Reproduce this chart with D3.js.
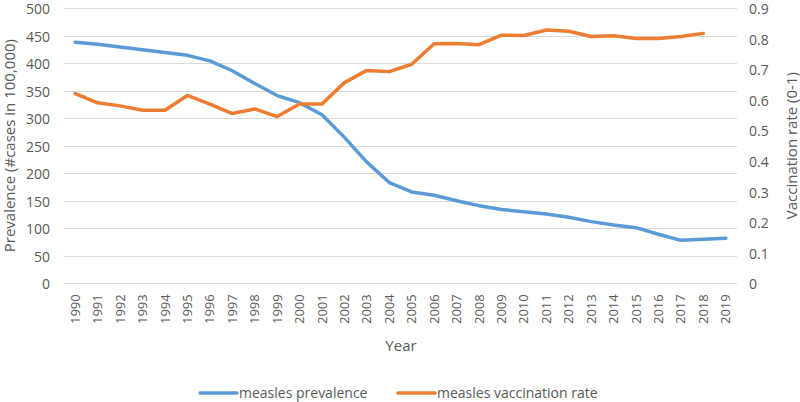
<!DOCTYPE html>
<html>
<head>
<meta charset="utf-8">
<script src="https://cdn.jsdelivr.net/npm/d3@7"></script>
<style>
  body { margin: 0; background: #fff; }
  svg { font-family: 'Open Sans', sans-serif; }
</style>
</head>
<body>
<div class="div_chart"></div>
<script>
const years = d3.range(1990, 2020).map(String);
const prevalence = [438, 434, 429, 424, 419, 414, 404, 386, 363, 341, 328, 306, 265, 220, 183, 166,
  160, 150, 141, 134, 130, 126, 120, 112, 106, 101, 89, 78, 80, 82];
const vaccination = [0.620, 0.590, 0.580, 0.566, 0.566, 0.614, 0.586, 0.555, 0.570, 0.545, 0.586,
  0.586, 0.656, 0.696, 0.692, 0.716, 0.783, 0.784, 0.780, 0.811, 0.810, 0.828, 0.824, 0.807,
  0.809, 0.800, 0.800, 0.807, 0.817, null];
const leftTicks = d3.range(0, 501, 50);
const rightTicks = d3.range(0, 0.91, 0.1);
const seriesNames = ['measles prevalence', 'measles vaccination rate'];
const colors = ['#5B9BD5', '#ED7D31'];

const width = 800;
const height = 402;
const margin = { top: 8, right: 63, bottom: 118.7, left: 64 };
const textColor = '#595959';

const svg = d3.select('.div_chart')
  .append('svg')
  .attr('width', width)
  .attr('height', height);

const x = d3.scaleBand()
  .domain(years)
  .range([margin.left, width - margin.right]);

const yLeft = d3.scaleLinear()
  .domain([0, 500])
  .range([height - margin.bottom, margin.top]);

const yRight = d3.scaleLinear()
  .domain([0, 0.9])
  .range([height - margin.bottom, margin.top]);

// gridlines
svg.append('g')
  .selectAll('line')
  .data(leftTicks)
  .enter()
  .append('line')
  .attr('x1', margin.left)
  .attr('x2', width - margin.right)
  .attr('y1', (d) => Math.round(yLeft(d)) + 0.5)
  .attr('y2', (d) => Math.round(yLeft(d)) + 0.5)
  .attr('stroke', '#D9D9D9')
  .attr('stroke-width', 1);

// left axis
const leftAxis = svg.append('g')
  .attr('transform', `translate(${margin.left - 8},0)`)
  .call(d3.axisLeft(yLeft).tickValues(leftTicks).tickSize(0).tickPadding(6));
leftAxis.select('.domain').remove();
leftAxis.selectAll('text')
  .attr('fill', textColor)
  .attr('font-size', '14px')
  .attr('font-family', "'Open Sans', sans-serif")
  .attr('dy', '0.4em');

// right axis
const rightAxis = svg.append('g')
  .attr('transform', `translate(${width - margin.right + 8},0)`)
  .call(d3.axisRight(yRight).tickValues(rightTicks).tickSize(0).tickPadding(4)
    .tickFormat((d) => d3.format('~g')(+d.toFixed(1))));
rightAxis.select('.domain').remove();
rightAxis.selectAll('text')
  .attr('fill', textColor)
  .attr('font-size', '14px')
  .attr('font-family', "'Open Sans', sans-serif")
  .attr('dy', '0.4em');

// x axis
const xAxis = svg.append('g')
  .attr('transform', `translate(0,${height - margin.bottom})`)
  .call(d3.axisBottom(x).tickSize(0).tickPadding(0));
xAxis.select('.domain').remove();
xAxis.selectAll('text')
  .attr('fill', textColor)
  .attr('font-size', '13px')
  .attr('font-family', "'Open Sans', sans-serif")
  .attr('transform', 'rotate(-90)')
  .attr('text-anchor', 'end')
  .attr('x', -11)
  .attr('y', 0)
  .attr('dy', '0.35em');

// lines
const lineLeft = d3.line()
  .x((d, i) => x(years[i]) + x.bandwidth() / 2)
  .y((d) => yLeft(d));

const lineRight = d3.line()
  .defined((d) => d != null)
  .x((d, i) => x(years[i]) + x.bandwidth() / 2)
  .y((d) => yRight(d));

svg.append('path')
  .datum(prevalence)
  .attr('fill', 'none')
  .attr('stroke', colors[0])
  .attr('stroke-width', 3.5)
  .attr('stroke-linejoin', 'round')
  .attr('stroke-linecap', 'round')
  .attr('d', lineLeft);

svg.append('path')
  .datum(vaccination)
  .attr('fill', 'none')
  .attr('stroke', colors[1])
  .attr('stroke-width', 3.5)
  .attr('stroke-linejoin', 'round')
  .attr('stroke-linecap', 'round')
  .attr('d', lineRight);

// axis titles
svg.append('text')
  .attr('transform', `translate(15,${(margin.top + height - margin.bottom) / 2}) rotate(-90)`)
  .attr('text-anchor', 'middle')
  .attr('fill', textColor)
  .attr('font-size', '15px')
  .text('Prevalence (#cases in 100,000)');

svg.append('text')
  .attr('transform', `translate(797,${(margin.top + height - margin.bottom) / 2}) rotate(-90)`)
  .attr('text-anchor', 'middle')
  .attr('fill', textColor)
  .attr('font-size', '15px')
  .text('Vaccination rate (0-1)');

svg.append('text')
  .attr('x', 401)
  .attr('y', 351)
  .attr('text-anchor', 'middle')
  .attr('fill', textColor)
  .attr('font-size', '15px')
  .text('Year');

// legend
const legendX = [200, 398];
const legend = svg.append('g')
  .selectAll('g')
  .data(seriesNames)
  .enter()
  .append('g')
  .attr('transform', (d, i) => `translate(${legendX[i]},393)`);

legend.append('line')
  .attr('x1', 0)
  .attr('x2', 37)
  .attr('stroke', (d, i) => colors[i])
  .attr('stroke-width', 3.5)
  .attr('stroke-linecap', 'round');

legend.append('text')
  .attr('x', 39)
  .attr('dy', '0.35em')
  .attr('fill', textColor)
  .attr('font-size', '14px')
  .text((d) => d);
</script>
</body>
</html>
